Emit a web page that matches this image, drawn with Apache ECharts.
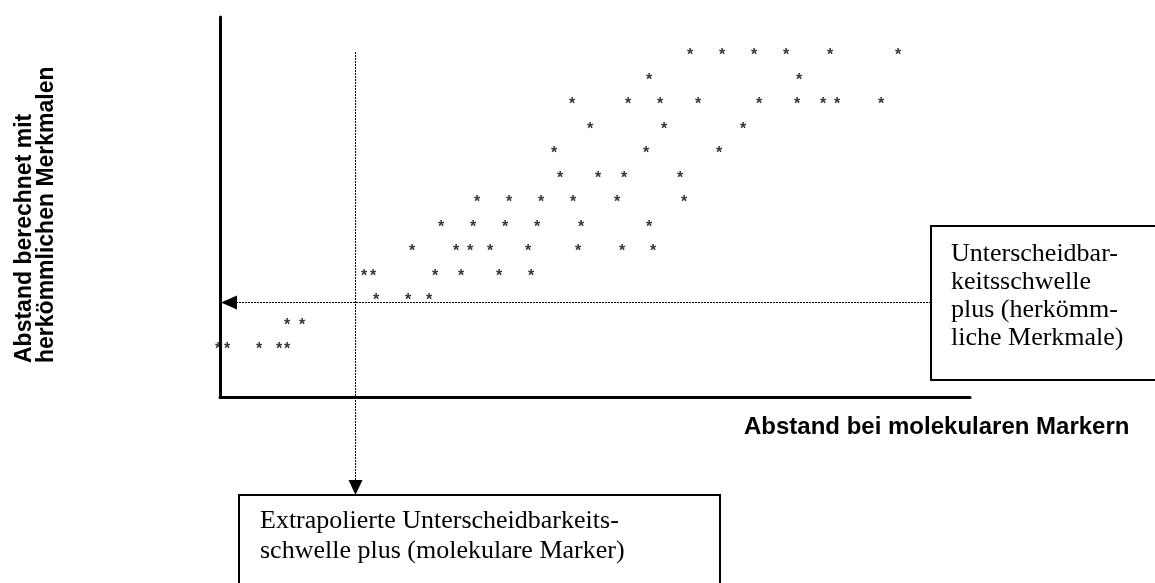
<!DOCTYPE html>
<html>
<head>
<meta charset="utf-8">
<script src="https://cdn.jsdelivr.net/npm/echarts@6/dist/echarts.min.js"></script>
<style>
  html, body { margin: 0; padding: 0; background: #fff; }
  #chart { width: 1155px; height: 583px; }
</style>
</head>
<body>
<div id="chart"></div>
<script>
// Abstand bei molekularen Markern (x) und mit herkömmlichen Merkmalen (y), Zeile für Zeile von oben
var abstandMolekular = [
  47.0, 50.2, 53.4, 56.6, 61.0, 67.8,
  42.9, 57.9,
  35.2, 40.8, 44.0, 47.8, 53.9, 57.7, 60.3, 61.7, 66.1,
  37.0, 44.4, 52.3,
  33.4, 42.6, 49.9,
  34.0, 37.8, 40.4, 46.0,
  25.7, 28.9, 32.1, 35.3, 39.7, 46.4,
  22.1, 25.3, 28.5, 31.7, 36.1, 42.9,
  19.2, 23.6, 25.0, 27.0, 30.8, 35.8, 40.2, 43.3,
  14.4, 15.3, 21.5, 24.1, 27.9, 31.1,
  15.6, 18.8, 20.9,
  6.7, 8.2,
  -0.2, 0.7, 3.9, 5.9, 6.7
];
var abstandHerkoemmlich = [
  34.5, 34.5, 34.5, 34.5, 34.5, 34.5,
  32.05, 32.05,
  29.6, 29.6, 29.6, 29.6, 29.6, 29.6, 29.6, 29.6, 29.6,
  27.15, 27.15, 27.15,
  24.7, 24.7, 24.7,
  22.25, 22.25, 22.25, 22.25,
  19.8, 19.8, 19.8, 19.8, 19.8, 19.8,
  17.35, 17.35, 17.35, 17.35, 17.35, 17.35,
  14.9, 14.9, 14.9, 14.9, 14.9, 14.9, 14.9, 14.9,
  12.45, 12.45, 12.45, 12.45, 12.45, 12.45,
  10.0, 10.0, 10.0,
  7.55, 7.55,
  5.1, 5.1, 5.1, 5.1, 5.1
];

// Schwellen
var schwelleMolekular = 13.5;
var schwelleHerkoemmlich = 9.45;
var schwelleOben = 34.5;

var xTitel = "Abstand bei molekularen Markern";
var yTitel = "Abstand berechnet mit\nherkömmlichen Merkmalen";
var text1 = "Unterscheidbar-\nkeitsschwelle\nplus (herkömm-\nliche Merkmale)";
var text2 = "Extrapolierte Unterscheidbarkeits-\nschwelle plus (molekulare Marker)";

var chart = echarts.init(document.getElementById("chart"));

var punkte = abstandMolekular.map(function (x, i) {
  return [x, abstandHerkoemmlich[i]];
});

var achse = {
  type: "value",
  min: 0,
  axisLine: { lineStyle: { color: "#000", width: 3 } },
  axisTick: { show: false },
  axisLabel: { show: false },
  splitLine: { show: false }
};

chart.setOption({
  animation: false,
  grid: { left: 220, right: 185, top: 17, bottom: 186 },
  xAxis: Object.assign({}, achse, { max: 75 }),
  yAxis: Object.assign({}, achse, { max: 38 }),
  series: [
    {
      type: "scatter",
      data: punkte,
      symbol: "circle",
      symbolSize: 1,
      clip: false,
      itemStyle: { color: "rgba(0,0,0,0)" },
      label: {
        show: true,
        position: "inside",
        formatter: "*",
        color: "#000",
        fontFamily: "Liberation Sans",
        fontWeight: "bold",
        fontSize: 16,
        offset: [0, 4]
      }
    }
  ]
});

// Pfeile und Kästen, Lage über die Achsen berechnet
var ursprung = chart.convertToPixel({ gridIndex: 0 }, [0, 0]);
var hPunkt = chart.convertToPixel({ gridIndex: 0 }, [0, schwelleHerkoemmlich]);
var vPunkt = chart.convertToPixel({ gridIndex: 0 }, [schwelleMolekular, schwelleOben]);
var hy = Math.floor(hPunkt[1]) + 0.5;
var vx = Math.floor(vPunkt[0]) + 0.5;
var box1 = { x: 931, y: 226, w: 240, h: 154 };
var box2 = { x: 239, y: 495, w: 481, h: 110 };
var punktiert = { stroke: "#000", lineWidth: 1, lineDash: [2, 1] };

chart.setOption({
  graphic: [
    {
      type: "line",
      shape: { x1: box1.x, y1: hy, x2: ursprung[0] + 16, y2: hy },
      style: punktiert
    },
    {
      type: "polygon",
      shape: { points: [[ursprung[0] + 1, hy], [ursprung[0] + 17, hy - 7], [ursprung[0] + 17, hy + 7]] },
      style: { fill: "#000" }
    },
    {
      type: "line",
      shape: { x1: vx, y1: vPunkt[1], x2: vx, y2: box2.y - 14 },
      style: punktiert
    },
    {
      type: "polygon",
      shape: { points: [[vx, box2.y], [vx - 7, box2.y - 15], [vx + 7, box2.y - 15]] },
      style: { fill: "#000" }
    },
    {
      type: "rect",
      shape: { x: box1.x, y: box1.y, width: box1.w, height: box1.h },
      style: { fill: "#fff", stroke: "#000", lineWidth: 2 }
    },
    {
      type: "text",
      x: box1.x + 20,
      y: 240,
      style: {
        text: text1, fill: "#000", fontFamily: "Liberation Serif", fontSize: 26,
        lineHeight: 28, align: "left", verticalAlign: "top"
      }
    },
    {
      type: "rect",
      shape: { x: box2.x, y: box2.y, width: box2.w, height: box2.h },
      style: { fill: "#fff", stroke: "#000", lineWidth: 2 }
    },
    {
      type: "text",
      x: box2.x + 21,
      y: 506,
      style: {
        text: text2, fill: "#000", fontFamily: "Liberation Serif", fontSize: 26,
        lineHeight: 30, align: "left", verticalAlign: "top"
      }
    },
    {
      type: "text",
      x: 744,
      y: 427,
      style: {
        text: xTitel, fill: "#000", fontFamily: "Liberation Sans", fontWeight: "bold",
        fontSize: 24, align: "left", verticalAlign: "middle"
      }
    },
    {
      type: "text",
      x: 36,
      y: 363,
      rotation: Math.PI / 2,
      style: {
        text: yTitel, fill: "#000", fontFamily: "Liberation Sans", fontWeight: "bold",
        fontSize: 23, lineHeight: 22, align: "left", verticalAlign: "middle"
      }
    }
  ]
});
</script>
</body>
</html>
